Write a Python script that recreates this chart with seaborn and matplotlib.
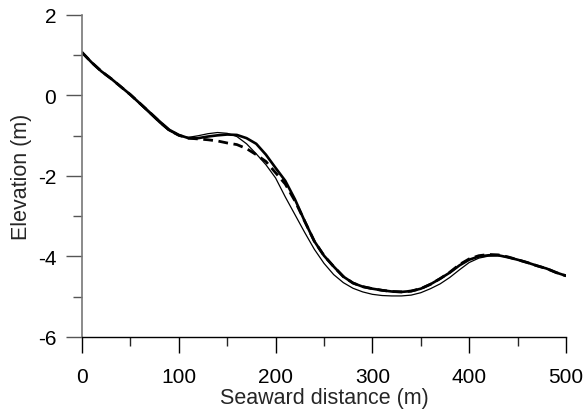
import numpy as np
import pandas as pd
import matplotlib
matplotlib.use("Agg")
import matplotlib.pyplot as plt
import seaborn as sns
from matplotlib.ticker import MultipleLocator

# Seaward distance (m)
distance = [0, 10, 20, 30, 40, 50, 60, 70, 80, 90, 100, 110, 120, 130, 140, 150,
            160, 170, 180, 190, 200, 210, 220, 230, 240, 250, 260, 270, 280, 290,
            300, 310, 320, 330, 340, 350, 360, 370, 380, 390, 400, 410, 420, 430,
            440, 450, 460, 470, 480, 490, 500]

# Thick solid profile
elev_thick = [1.07, 0.82, 0.60, 0.42, 0.22, 0.02, -0.20, -0.42, -0.64, -0.85,
              -0.98, -1.06, -1.06, -1.02, -0.99, -0.97, -0.98, -1.06, -1.20, -1.47,
              -1.80, -2.12, -2.58, -3.12, -3.62, -3.98, -4.25, -4.50, -4.66, -4.75,
              -4.80, -4.84, -4.87, -4.88, -4.86, -4.80, -4.69, -4.55, -4.40, -4.22,
              -4.08, -4.00, -3.97, -3.97, -4.02, -4.08, -4.15, -4.23, -4.30, -4.40,
              -4.48]

# Thick dashed profile
elev_dashed = [1.07, 0.82, 0.60, 0.42, 0.22, 0.02, -0.20, -0.42, -0.65, -0.86,
               -0.99, -1.06, -1.08, -1.10, -1.13, -1.18, -1.22, -1.32, -1.47, -1.64,
               -1.92, -2.20, -2.62, -3.12, -3.62, -3.98, -4.25, -4.50, -4.66, -4.75,
               -4.80, -4.84, -4.87, -4.88, -4.86, -4.80, -4.69, -4.55, -4.39, -4.20,
               -4.06, -3.98, -3.95, -3.96, -4.01, -4.08, -4.15, -4.23, -4.30, -4.40,
               -4.48]

# Thin solid profile
elev_thin = [1.07, 0.82, 0.60, 0.42, 0.22, 0.01, -0.22, -0.45, -0.68, -0.88,
             -1.00, -1.04, -1.00, -0.95, -0.92, -0.94, -1.02, -1.20, -1.45, -1.72,
             -2.05, -2.52, -2.96, -3.40, -3.82, -4.17, -4.45, -4.65, -4.79, -4.88,
             -4.94, -4.97, -4.98, -4.98, -4.96, -4.90, -4.80, -4.68, -4.52, -4.33,
             -4.15, -4.04, -3.99, -3.98, -4.02, -4.08, -4.15, -4.23, -4.30, -4.40,
             -4.48]

x_ticks = [0, 100, 200, 300, 400, 500]
y_ticks = [-6, -4, -2, 0, 2]

df = pd.DataFrame({"x": distance, "thick": elev_thick,
                   "dashed": elev_dashed, "thin": elev_thin})

sns.set_style("ticks")
plt.rcParams["font.family"] = ["Liberation Sans", "DejaVu Sans"]
plt.rcParams["axes.unicode_minus"] = False

fig = plt.figure(figsize=(5.87, 4.14), dpi=100)
ax = fig.add_axes([0.1397, 0.1836, 0.8245, 0.7778])

sns.lineplot(data=df, x="x", y="thin", ax=ax, color="black", linewidth=0.9,
             estimator=None, sort=False)
sns.lineplot(data=df, x="x", y="dashed", ax=ax, color="black", linewidth=2.0,
             linestyle=(0, (3.5, 2)), estimator=None, sort=False)
sns.lineplot(data=df, x="x", y="thick", ax=ax, color="black", linewidth=1.9,
             estimator=None, sort=False)

ax.set_xlim(0, 500)
ax.set_ylim(-6, 2)
ax.set_xticks(x_ticks)
ax.set_yticks(y_ticks)
ax.xaxis.set_minor_locator(MultipleLocator(50))
ax.yaxis.set_minor_locator(MultipleLocator(1))
ax.tick_params(which="major", direction="out", length=11.5, width=1.0,
               labelsize=15, colors="black")
ax.tick_params(axis="x", which="major", pad=10)
ax.tick_params(axis="y", which="major", pad=7)
ax.tick_params(which="minor", direction="out", length=6.5, width=1.0)
ax.tick_params(axis="y", which="both", color="#555555")

ax.set_xlabel("Seaward distance (m)", fontsize=15.5, labelpad=1)
ax.set_ylabel("Elevation (m)", fontsize=15.5, labelpad=4)

sns.despine(ax=ax)
ax.spines["left"].set_color("#777777")
ax.spines["left"].set_linewidth(1.2)
ax.spines["bottom"].set_color("black")
ax.spines["bottom"].set_linewidth(1.0)

fig.savefig("out.png", dpi=100)
